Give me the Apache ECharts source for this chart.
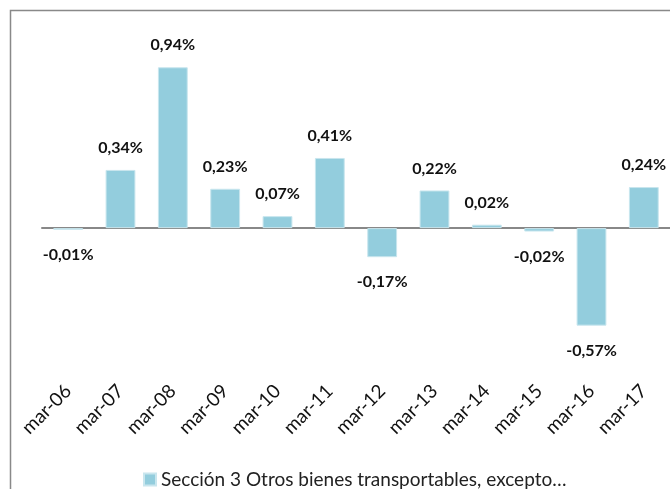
<!DOCTYPE html>
<html>
<head>
<meta charset="utf-8">
<script src="https://cdn.jsdelivr.net/npm/echarts@6/dist/echarts.min.js"></script>
<style>
  html, body { margin: 0; padding: 0; background: #fff; }
  #chart { width: 670px; height: 489px; }
</style>
</head>
<body>
<div id="chart"></div>
<script>
var categories = ['mar-06', 'mar-07', 'mar-08', 'mar-09', 'mar-10', 'mar-11',
  'mar-12', 'mar-13', 'mar-14', 'mar-15', 'mar-16', 'mar-17']
var values = [-0.01, 0.34, 0.94, 0.23, 0.07, 0.41, -0.17, 0.22, 0.02, -0.02, -0.57, 0.24]
var seriesName = 'Sección 3 Otros bienes transportables, excepto…'

var FONT = 'Lato, "Open Sans", sans-serif'
var BAR = '#93CDDD'

var chart = echarts.init(document.getElementById('chart'))

var option = {
  animation: false,
  textStyle: { fontFamily: FONT },
  graphic: [{
    type: 'rect',
    left: 8,
    top: 8,
    shape: { width: 700, height: 520 },
    style: { fill: 'none', stroke: '#898989', lineWidth: 1.5 },
    silent: true,
    z: 100
  }],
  legend: {
    left: 138,
    top: 465,
    itemWidth: 12,
    itemHeight: 12,
    itemGap: 5,
    icon: 'rect',
    textStyle: { fontFamily: FONT, fontSize: 19, color: '#222' },
    data: [seriesName]
  },
  grid: [
    { left: 42, right: -4, top: 57, height: 308 },
    { left: 42, right: -4, top: 57, height: 308 }
  ],
  xAxis: [
    {
      type: 'category',
      data: categories,
      gridIndex: 0,
      axisLine: { onZero: true, lineStyle: { color: '#888', width: 2 } },
      axisTick: { show: false },
      axisLabel: { show: false }
    },
    {
      type: 'category',
      data: categories,
      gridIndex: 1,
      position: 'bottom',
      axisLine: { show: false, onZero: false },
      axisTick: { show: false },
      axisLabel: {
        rotate: 45,
        margin: 23,
        fontSize: 19,
        color: '#111',
        fontFamily: FONT
      }
    }
  ],
  yAxis: [
    { type: 'value', min: -0.8, max: 1.0, show: false, gridIndex: 0 },
    { type: 'value', min: -0.8, max: 1.0, show: false, gridIndex: 1 }
  ],
  series: [{
    name: seriesName,
    type: 'bar',
    xAxisIndex: 0,
    yAxisIndex: 0,
    barWidth: '57%',
    itemStyle: { color: BAR, borderColor: '#C9E6EE', borderWidth: 1 },
    label: {
      show: true,
      fontFamily: FONT,
      fontSize: 16,
      fontWeight: 'bold',
      color: '#111',
      formatter: function (p) {
        return p.value.toFixed(2).replace('.', ',') + '%'
      }
    },
    data: values.map(function (v) {
      return {
        value: v,
        label: v < 0 ? { position: 'bottom', distance: 17 } : { position: 'top', distance: 14 }
      }
    })
  }]
}

chart.setOption(option)
</script>
</body>
</html>
